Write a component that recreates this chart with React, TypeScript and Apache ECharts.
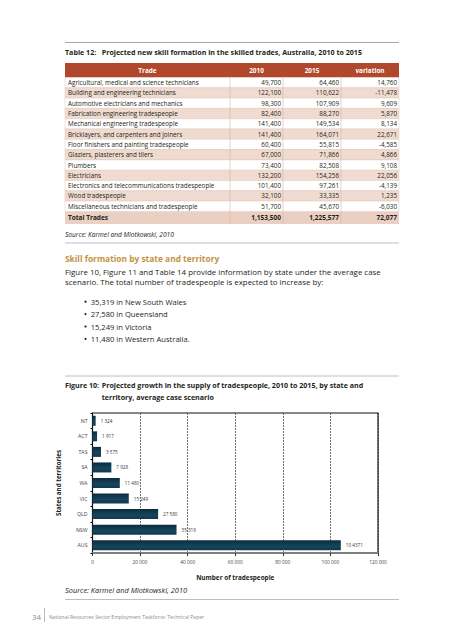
import React, { useEffect, useRef } from "react";
import * as echarts from "echarts";

const trades = [
  "Agricultural, medical and science technicians",
  "Building and engineering technicians",
  "Automotive electricians and mechanics",
  "Fabrication engineering tradespeople",
  "Mechanical engineering tradespeople",
  "Bricklayers, and carpenters and joiners",
  "Floor finishers and painting tradespeople",
  "Glaziers, plasterers and tilers",
  "Plumbers",
  "Electricians",
  "Electronics and telecommunications tradespeople",
  "Wood tradespeople",
  "Miscellaneous technicians and tradespeople",
];
const values2010 = [49700, 122100, 98300, 82400, 141400, 141400, 60400, 67000, 73400, 132200, 101400, 32100, 51700];
const values2015 = [64460, 110622, 107909, 88270, 149534, 164071, 55815, 71866, 82508, 154256, 97261, 33335, 45670];
const variation = [14760, -11478, 9609, 5870, 8134, 22671, -4585, 4866, 9108, 22056, -4139, 1235, -6030];
const totals = ["1,153,500", "1,225,577", "72,077"];

const bullets = [
  "35,319 in New South Wales",
  "27,580 in Queensland",
  "15,249 in Victoria",
  "11,480 in Western Australia.",
];

const states = ["NT", "ACT", "TAS", "SA", "WA", "VIC", "QLD", "NSW", "AUS"];
const growth = [1324, 1917, 3575, 7928, 11480, 15249, 27580, 35319, 104371];
const growthLabels = ["1 324", "1 917", "3 575", "7 928", "11 480", "15 249", "27 580", "35 319", "10 4371"];
const xTicks = ["0", "20 000", "40 000", "60 000", "80 000", "100 000", "120 000"];

const FONT = "'Open Sans', 'Noto Sans', sans-serif";
const TXT = "#231f20";

function fmt(n: number) {
  return n.toLocaleString("en-US");
}

export default function App() {
  const ref = useRef<HTMLDivElement>(null);
  useEffect(() => {
    if (!ref.current) return;
    const chart = echarts.init(ref.current, null, { renderer: "svg" });

    const g: any[] = [];
    const L = 65, R = 399;
    const rule = (y: number, color = "#a7a9ac", w = 1) =>
      g.push({ type: "line", shape: { x1: L, y1: y, x2: R, y2: y }, style: { stroke: color, lineWidth: w }, silent: true });
    const text = (x: number, y: number, s: string, opt: any = {}) =>
      g.push({
        type: "text",
        x,
        y,
        style: {
          text: s,
          fontFamily: FONT,
          fontSize: opt.size || 8,
          fontWeight: opt.bold ? "bold" : "normal",
          fontStyle: opt.italic ? "italic" : "normal",
          fill: opt.color || TXT,
          textAlign: opt.align || "left",
          textVerticalAlign: "middle",
        },
        silent: true,
      });

    // top rule + table title
    rule(42.5);
    text(L, 51.5, "Table 12:", { bold: true, size: 7.1 });
    text(101.7, 51.5, "Projected new skill formation in the skilled trades, Australia, 2010 to 2015", { bold: true, size: 7.1 });

    // table
    const cols = [65, 230, 283, 341, 399];
    const headTop = 63, headH = 14.5, rowH = 10.3;
    g.push({ type: "rect", shape: { x: 65, y: headTop, width: 334, height: headH }, style: { fill: "#b0482b" }, silent: true });
    const heads = ["Trade", "2010", "2015", "variation"];
    heads.forEach((h, i) =>
      text((cols[i] + cols[i + 1]) / 2, headTop + headH / 2, h, { bold: true, size: 6.4, color: "#ffffff", align: "center" })
    );
    const bodyTop = headTop + headH;
    trades.forEach((t, i) => {
      const y = bodyTop + i * rowH;
      g.push({
        type: "rect",
        shape: { x: 65, y, width: 334, height: rowH },
        style: { fill: i % 2 === 1 ? "#f0dbd0" : "#ffffff", stroke: "#e2c6b8", lineWidth: 0.5 },
        silent: true,
      });
      const cy = y + rowH / 2;
      text(68, cy, t, { size: 6.3 });
      text(cols[2] - 2, cy, fmt(values2010[i]), { size: 6.3, align: "right" });
      text(cols[3] - 2, cy, fmt(values2015[i]), { size: 6.3, align: "right" });
      text(cols[4] - 2, cy, fmt(variation[i]), { size: 6.3, align: "right" });
    });
    const totTop = bodyTop + trades.length * rowH;
    const totH = 12.6;
    g.push({ type: "rect", shape: { x: 65, y: totTop, width: 334, height: totH }, style: { fill: "#ebcfc2" }, silent: true });
    [cols[1], cols[2], cols[3]].forEach((x) =>
      g.push({ type: "line", shape: { x1: x, y1: bodyTop, x2: x, y2: totTop + totH }, style: { stroke: "#d9b6a6", lineWidth: 0.6 }, silent: true })
    );
    text(68, totTop + totH / 2, "Total Trades", { size: 6.5, bold: true });
    totals.forEach((v, i) => text(cols[i + 2] - 2, totTop + totH / 2, v, { size: 6.5, bold: true, align: "right" }));

    text(L, 234, "Source: Karmel and Mlotkowski, 2010", { italic: true, size: 6.6 });
    rule(243, "#bcbec0");

    text(L, 258.7, "Skill formation by state and territory", { bold: true, size: 8.4, color: "#c4913f" });
    text(L, 272, "Figure 10, Figure 11 and Table 14 provide information by state under the average case", { size: 7.9 });
    text(L, 281.5, "scenario. The total number of tradespeople is expected to increase by:", { size: 7.9 });
    bullets.forEach((b, i) => {
      const y = 301.7 + i * 12.4;
      g.push({ type: "circle", shape: { cx: 85.5, cy: y, r: 1.1 }, style: { fill: TXT }, silent: true });
      text(90.7, y, b, { size: 7.6 });
    });

    rule(376, "#bcbec0");
    text(L, 385, "Figure 10:", { bold: true, size: 7.1 });
    text(101.7, 385, "Projected growth in the supply of tradespeople, 2010 to 2015, by state and", { bold: true, size: 7.1 });
    text(101.7, 396.7, "territory, average case scenario", { bold: true, size: 7.1 });

    text(L, 590, "Source: Karmel and Mlotkowski, 2010", { italic: true, size: 7.4 });
    rule(599.5, "#bcbec0");

    // footer
    text(36.5, 616.5, "34", { size: 8, color: "#8a8c8e", align: "center" });
    g.push({ type: "line", shape: { x1: 44.5, y1: 608, x2: 44.5, y2: 622 }, style: { stroke: "#c9b8a8", lineWidth: 1 }, silent: true });
    text(49, 616.5, "National Resources Sector Employment Taskforce: Technical Paper", { size: 5, color: "#8a8c8e" });

    chart.setOption({
      animation: false,
      backgroundColor: "#ffffff",
      grid: { left: 92.5, top: 413, width: 285.5, height: 140, show: true, borderColor: "#111", borderWidth: 1.2, containLabel: false },
      xAxis: {
        type: "value",
        min: 0,
        max: 120000,
        interval: 20000,
        name: "Number of tradespeople",
        nameLocation: "middle",
        nameGap: 21,
        nameTextStyle: { fontFamily: FONT, fontSize: 6.4, fontWeight: "bold", color: TXT },
        axisLine: { show: true, lineStyle: { color: "#7f7f7f", width: 2 } },
        axisTick: { show: true, length: 3, lineStyle: { color: "#333" } },
        axisLabel: {
          fontFamily: FONT,
          fontSize: 4.8,
          color: "#444",
          margin: 6,
          formatter: (v: number) => xTicks[Math.round(v / 20000)] ?? "",
        },
        splitLine: { show: true, lineStyle: { color: "#333", type: [2, 1], width: 0.7 } },
      },
      yAxis: {
        type: "category",
        data: states,
        inverse: true,
        name: "States and territories",
        nameLocation: "middle",
        nameGap: 31,
        nameRotate: 90,
        nameTextStyle: { fontFamily: FONT, fontSize: 6.2, fontWeight: "bold", color: TXT },
        axisLine: { show: true, lineStyle: { color: "#111", width: 1 } },
        axisTick: { show: true, length: 2, lineStyle: { color: "#111" } },
        axisLabel: { fontFamily: FONT, fontSize: 5.2, color: "#444", margin: 5 },
      },
      series: [
        {
          type: "bar",
          data: growth,
          barWidth: 10,
          itemStyle: {
            color: new echarts.graphic.LinearGradient(0, 0, 0, 1, [
              { offset: 0, color: "#0a2c3f" },
              { offset: 0.6, color: "#17455c" },
              { offset: 1, color: "#0f3a50" },
            ]),
          },
          label: {
            show: true,
            position: "right",
            distance: 5,
            fontFamily: FONT,
            fontSize: 4.6,
            color: "#333",
            formatter: (p: any) => growthLabels[p.dataIndex],
          },
        },
      ],
      graphic: g,
    });
    return () => chart.dispose();
  }, []);
  return <div ref={ref} style={{ position: "absolute", left: 0, top: 0, width: 453, height: 640 }} />;
}
